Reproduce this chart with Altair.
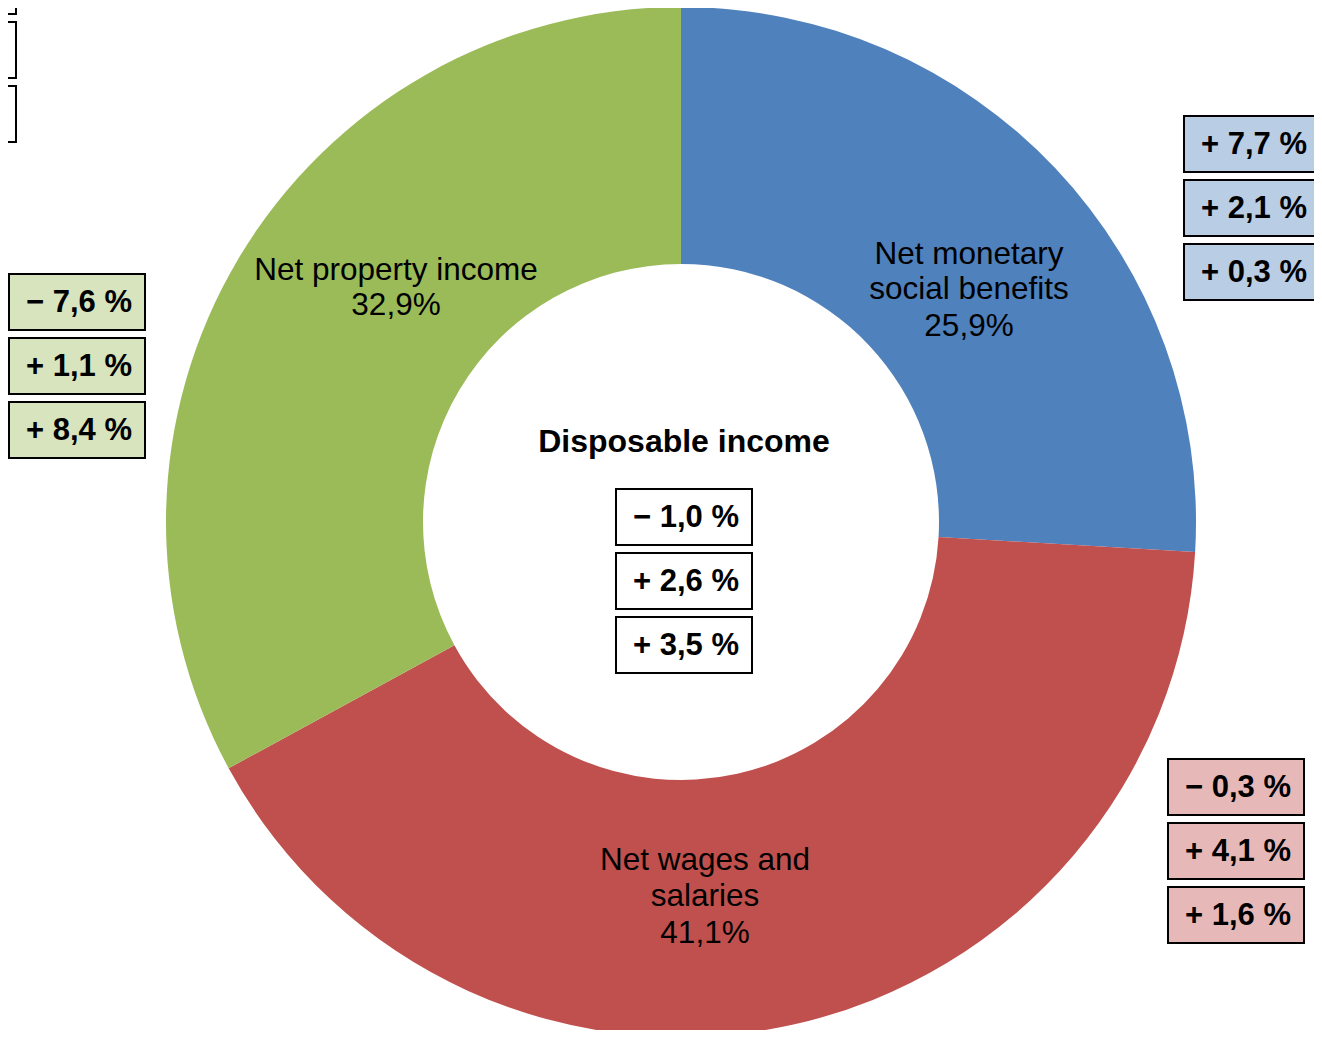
import altair as alt
import pandas as pd

# ---------------- data ----------------
categories = ["Net monetary social benefits", "Net wages and salaries", "Net property income"]
label_lines = [["Net monetary", "social benefits"], ["Net wages and", "salaries"], ["Net property income"]]
shares = [25.9, 41.1, 32.9]
slice_colors = ["#4F81BD", "#C0504D", "#9BBB59"]
box_colors = ["#B9CDE5", "#E6B9B8", "#D7E4BD"]

changes_benefits = [7.7, 2.1, 0.3]
changes_wages = [-0.3, 4.1, 1.6]
changes_property = [-7.6, 1.1, 8.4]
changes_total = [-1.0, 2.6, 3.5]
center_title = "Disposable income"

# ---------------- layout (screen pixels) ----------------
W, H = 1306, 1022
CX, CY = 681, 522
R_OUT, R_IN = 515, 258
BOX_W, BOX_H, BOX_STEP = 136, 56, 64
box_anchor = {  # left, top of first box
    "benefits": (1184, 116),
    "wages": (1168, 759),
    "property": (9, 274),
    "total": (616, 489),
    "legend": (-120, -42),
}
label_anchor = {
    "Net monetary social benefits": (969, [255, 290, 327]),
    "Net wages and salaries": (705, [861, 897, 934]),
    "Net property income": (396, [271, 306]),
}
title_pos = (684, 442)

FONT = "Liberation Sans"


def fmt_change(v):
    sign = "\u2212" if v < 0 else "+"
    return f"{sign} {abs(v):.1f} %".replace(".", ",")


def fmt_share(v):
    return f"{v:.1f}%".replace(".", ",")


xs = alt.Scale(domain=[8, 8 + W], range=[0, W])
ys = alt.Scale(domain=[8, 8 + H], range=[0, H])

# arc
arc_df = pd.DataFrame({"cat": categories, "share": shares, "idx": range(len(categories))})
arc = alt.Chart(arc_df).mark_arc(outerRadius=R_OUT, innerRadius=R_IN).encode(
    theta=alt.Theta("share:Q", stack=True),
    order=alt.Order("idx:Q"),
    color=alt.Color("cat:N", scale=alt.Scale(domain=categories, range=slice_colors), legend=None),
    x=alt.value(CX - 8),
    y=alt.value(CY - 8),
)

# boxes
groups = [
    ("benefits", changes_benefits, box_colors[0]),
    ("wages", changes_wages, box_colors[1]),
    ("property", changes_property, box_colors[2]),
    ("total", changes_total, "#FFFFFF"),
    ("legend", [None, None, None], "#FFFFFF"),
]
rows = []
for g, vals, col in groups:
    lx, ty = box_anchor[g]
    for i, v in enumerate(vals):
        top = ty + i * BOX_STEP
        rows.append({
            "x": lx, "x2": lx + BOX_W, "y": top, "y2": top + BOX_H,
            "cx": lx + BOX_W / 2 + 2, "cy": top + BOX_H / 2 + 1,
            "fill": col, "txt": fmt_change(v) if v is not None else "",
        })
box_df = pd.DataFrame(rows)

rects = alt.Chart(box_df).mark_rect(stroke="#000000", strokeWidth=2).encode(
    x=alt.X("x:Q", scale=xs, axis=None),
    x2="x2:Q",
    y=alt.Y("y:Q", scale=ys, axis=None),
    y2="y2:Q",
    fill=alt.Fill("fill:N", scale=None),
)
box_text = alt.Chart(box_df).mark_text(
    font=FONT, fontSize=31, fontWeight="bold", color="#000000", baseline="middle", align="center"
).encode(
    x=alt.X("cx:Q", scale=xs, axis=None),
    y=alt.Y("cy:Q", scale=ys, axis=None),
    text="txt:N",
)

# slice labels
lab_rows = []
for cat, lines, s in zip(categories, label_lines, shares):
    lx, ys_list = label_anchor[cat]
    all_lines = lines + [fmt_share(s)]
    for ln, yy in zip(all_lines, ys_list):
        lab_rows.append({"x": lx, "y": yy, "t": ln})
lab_df = pd.DataFrame(lab_rows)
labels = alt.Chart(lab_df).mark_text(
    font=FONT, fontSize=31.5, color="#000000", baseline="middle", align="center"
).encode(
    x=alt.X("x:Q", scale=xs, axis=None),
    y=alt.Y("y:Q", scale=ys, axis=None),
    text="t:N",
)

title_df = pd.DataFrame({"x": [title_pos[0]], "y": [title_pos[1]], "t": [center_title]})
title = alt.Chart(title_df).mark_text(
    font=FONT, fontSize=32, fontWeight="bold", color="#000000", baseline="middle", align="center"
).encode(
    x=alt.X("x:Q", scale=xs, axis=None),
    y=alt.Y("y:Q", scale=ys, axis=None),
    text="t:N",
)

chart = alt.layer(arc, rects, box_text, labels, title).properties(
    width=W, height=H, padding=0, autosize=alt.AutoSizeParams(type="none")
).configure_view(strokeWidth=0, stroke="transparent")

chart.save("out.html", embed_options={"renderer": "svg", "actions": False})
